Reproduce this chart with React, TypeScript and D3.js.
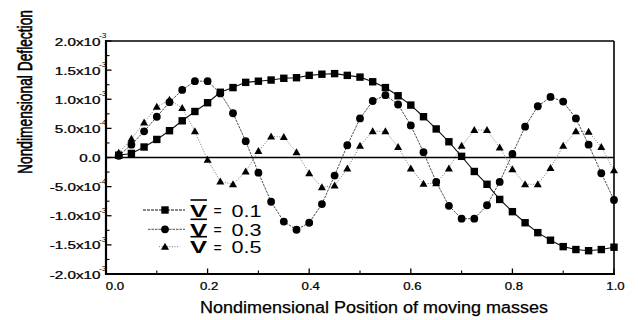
import React from "react";
import * as d3 from "d3";

// x positions (nondimensional position of moving masses)
const positions = [
  0.025, 0.05, 0.075, 0.1, 0.125, 0.15, 0.175, 0.2, 0.225, 0.25,
  0.275, 0.3, 0.325, 0.35, 0.375, 0.4, 0.425, 0.45, 0.475, 0.5,
  0.525, 0.55, 0.575, 0.6, 0.625, 0.65, 0.675, 0.7, 0.725, 0.75,
  0.775, 0.8, 0.825, 0.85, 0.875, 0.9, 0.925, 0.95, 0.975, 1.0,
];

// deflection values in units of 1e-3
const v01 = [
  0.04, 0.07, 0.18, 0.31, 0.46, 0.63, 0.79, 0.94, 1.12, 1.2,
  1.29, 1.31, 1.33, 1.36, 1.37, 1.41, 1.43, 1.44, 1.41, 1.38,
  1.3, 1.2, 1.06, 0.9, 0.7, 0.49, 0.27, 0.02, -0.24, -0.46,
  -0.72, -0.93, -1.12, -1.29, -1.42, -1.53, -1.58, -1.6, -1.58, -1.54,
];
const v03 = [
  0.03, 0.22, 0.45, 0.7, 0.95, 1.16, 1.31, 1.31, 1.1, 0.76,
  0.28, -0.26, -0.76, -1.1, -1.24, -1.12, -0.8, -0.31, 0.21, 0.67,
  0.97, 1.07, 0.91, 0.55, 0.09, -0.42, -0.83, -1.05, -1.05, -0.82,
  -0.42, 0.06, 0.53, 0.88, 1.04, 0.96, 0.67, 0.22, -0.27, -0.73,
];
const v05 = [
  0.08, 0.32, 0.6, 0.87, 0.99, 0.85, 0.45, -0.04, -0.41, -0.46,
  -0.24, 0.11, 0.36, 0.35, 0.09, -0.27, -0.51, -0.48, -0.19, 0.2,
  0.45, 0.45, 0.18, -0.19, -0.45, -0.44, -0.19, 0.2, 0.47, 0.47,
  0.17, -0.2, -0.46, -0.46, -0.18, 0.2, 0.45, 0.44, 0.18, -0.22,
];

const legendLabels = ["0.1", "0.3", "0.5"];

const yTickValues = [2, 1.5, 1, 0.5, 0, -0.5, -1, -1.5, -2];
const yTickMain = ["2.0x10", "1.5x10", "1.0x10", "5.0x10", "0.0", "-5.0x10", "-1.0x10", "-1.5x10", "-2.0x10"];
const yTickExp = ["-3", "-3", "-3", "-4", "", "-4", "-3", "-3", "-3"];
const xTickValues = [0, 0.2, 0.4, 0.6, 0.8, 1.0];
const xTickLabels = ["0.0", "0.2", "0.4", "0.6", "0.8", "1.0"];

const xTitle = "Nondimensional Position of moving masses";
const yTitle = "Nondimensional Deflection";

const FONT = "'Liberation Sans', Arial, Helvetica, sans-serif";

export default function App() {
  const x = d3.scaleLinear().domain([0, 1]).range([106, 614]);
  const y = d3.scaleLinear().domain([-2, 2]).range([274, 41]);

  const line = d3
    .line<[number, number]>()
    .x((d) => x(d[0]))
    .y((d) => y(d[1]));

  const mk = (vals: number[]) => positions.map((p, i) => [p, vals[i]] as [number, number]);

  const series = [
    { data: mk(v01), marker: "square", stroke: "#111", dash: "", width: 1.1 },
    { data: mk(v03), marker: "circle", stroke: "#222", dash: "2.5,1", width: 0.8 },
    { data: mk(v05), marker: "triangle", stroke: "#666", dash: "1,1.6", width: 0.9 },
  ];

  const drawMarker = (type: string, cx: number, cy: number, key: any) => {
    if (type === "square")
      return <rect key={key} x={cx - 3.7} y={cy - 3.7} width={7.4} height={7.4} fill="#000" />;
    if (type === "circle") return <circle key={key} cx={cx} cy={cy} r={3.9} fill="#000" />;
    const s = 4;
    return (
      <path
        key={key}
        d={`M${cx},${cy - s * 1.0}L${cx + s},${cy + s * 0.75}L${cx - s},${cy + s * 0.75}Z`}
        fill="#000"
      />
    );
  };

  const yMinor = d3.range(-1.75, 2, 0.5);
  const xMinor = [0.1, 0.3, 0.5, 0.7, 0.9];

  const legendRows = [210, 229.3, 246.7];
  const legendLines = [
    [143, 185],
    [148, 185],
    [159, 180],
  ];

  const ink = { stroke: "#000", strokeWidth: 0.25 };

  return (
    <svg
      width={638}
      height={320}
      style={{ position: "absolute", left: 0, top: 0, background: "#fff" }}
      fontFamily={FONT}
    >
      <rect x={0} y={0} width={638} height={320} fill="#fff" />

      {/* zero line */}
      <line x1={x(0)} x2={x(1)} y1={y(0)} y2={y(0)} stroke="#000" strokeWidth={1.3} />

      {/* series lines */}
      {series.map((s, i) => (
        <path
          key={"l" + i}
          d={line(s.data) || ""}
          fill="none"
          stroke={s.stroke}
          strokeWidth={s.width}
          strokeDasharray={s.dash || undefined}
        />
      ))}
      {/* markers */}
      {series.map((s, i) => (
        <g key={"m" + i}>{s.data.map((d, j) => drawMarker(s.marker, x(d[0]), y(d[1]), j))}</g>
      ))}

      {/* frame */}
      <line x1={106} x2={614} y1={41} y2={41} stroke="#000" strokeWidth={1.5} />
      <line x1={614} x2={614} y1={41} y2={274} stroke="#000" strokeWidth={1.6} />
      <line x1={106} x2={106} y1={40} y2={275} stroke="#000" strokeWidth={2.2} />
      <line x1={105} x2={615} y1={274} y2={274} stroke="#000" strokeWidth={2.2} />

      {/* y ticks */}
      {yTickValues.map((v, i) => (
        <line key={"yt" + i} x1={106} x2={111.5} y1={y(v)} y2={y(v)} stroke="#000" strokeWidth={1.3} />
      ))}
      {yMinor.map((v, i) => (
        <line key={"ym" + i} x1={106} x2={109.5} y1={y(v)} y2={y(v)} stroke="#000" strokeWidth={1.1} />
      ))}
      {/* x ticks */}
      {xTickValues.map((v, i) => (
        <line key={"xt" + i} x1={x(v)} x2={x(v)} y1={274} y2={268.5} stroke="#000" strokeWidth={1.3} />
      ))}
      {xMinor.map((v, i) => (
        <line key={"xm" + i} x1={x(v)} x2={x(v)} y1={274} y2={270.5} stroke="#000" strokeWidth={1.1} />
      ))}

      {/* y tick labels */}
      {yTickValues.map((v, i) => (
        <g key={"yl" + i}>
          <text
            transform={`translate(100.5,${y(v) + 4.5}) scale(1.45,1)`}
            textAnchor="end"
            fontSize={10.5}
            fill="#000"
            {...ink}
          >
            {yTickMain[i]}
          </text>
          {yTickExp[i] && (
            <text
              transform={`translate(99,${y(v) - 3}) scale(1.3,1)`}
              textAnchor="start"
              fontSize={6.5}
              fill="#000"
            >
              {yTickExp[i]}
            </text>
          )}
        </g>
      ))}

      {/* x tick labels */}
      {xTickValues.map((v, i) => (
        <text
          key={"xl" + i}
          transform={`translate(${x(v) + (i === 0 ? 9 : 1.5)},290) scale(1.2,1)`}
          textAnchor="middle"
          fontSize={11}
          fill="#000"
          {...ink}
        >
          {xTickLabels[i]}
        </text>
      ))}

      {/* axis titles */}
      <text
        x={200}
        y={313}
        fontSize={16}
        textLength={348}
        lengthAdjust="spacingAndGlyphs"
        fill="#000"
        {...ink}
      >
        {xTitle}
      </text>
      <text
        transform={`translate(32,92) scale(1.4,1) rotate(-90)`}
        textAnchor="middle"
        fontSize={13.8}
        fill="#000"
        stroke="#000"
        strokeWidth={0.45}
      >
        {yTitle}
      </text>

      {/* legend */}
      {series.map((s, i) => {
        const ry = legendRows[i];
        return (
          <g key={"lg" + i}>
            <line
              x1={legendLines[i][0]}
              x2={legendLines[i][1]}
              y1={ry}
              y2={ry}
              stroke={s.stroke}
              strokeWidth={s.width}
              strokeDasharray={i === 0 ? "3,1" : s.dash}
            />
            {drawMarker(s.marker, 165, ry, "lm" + i)}
            <line x1={190.5} x2={207} y1={ry - 10} y2={ry - 10} stroke="#000" strokeWidth={1.6} />
            <text
              x={190}
              y={ry + 6.5}
              fontSize={16}
              fontWeight="bold"
              textLength={17}
              lengthAdjust="spacingAndGlyphs"
              fill="#000"
            >
              V
            </text>
            <text x={213.5} y={ry + 6} fontSize={14} fill="#000">
              =
            </text>
            <text
              x={231.5}
              y={ry + 6.5}
              fontSize={16}
              textLength={30}
              lengthAdjust="spacingAndGlyphs"
              fill="#000"
            >
              {legendLabels[i]}
            </text>
          </g>
        );
      })}
    </svg>
  );
}
